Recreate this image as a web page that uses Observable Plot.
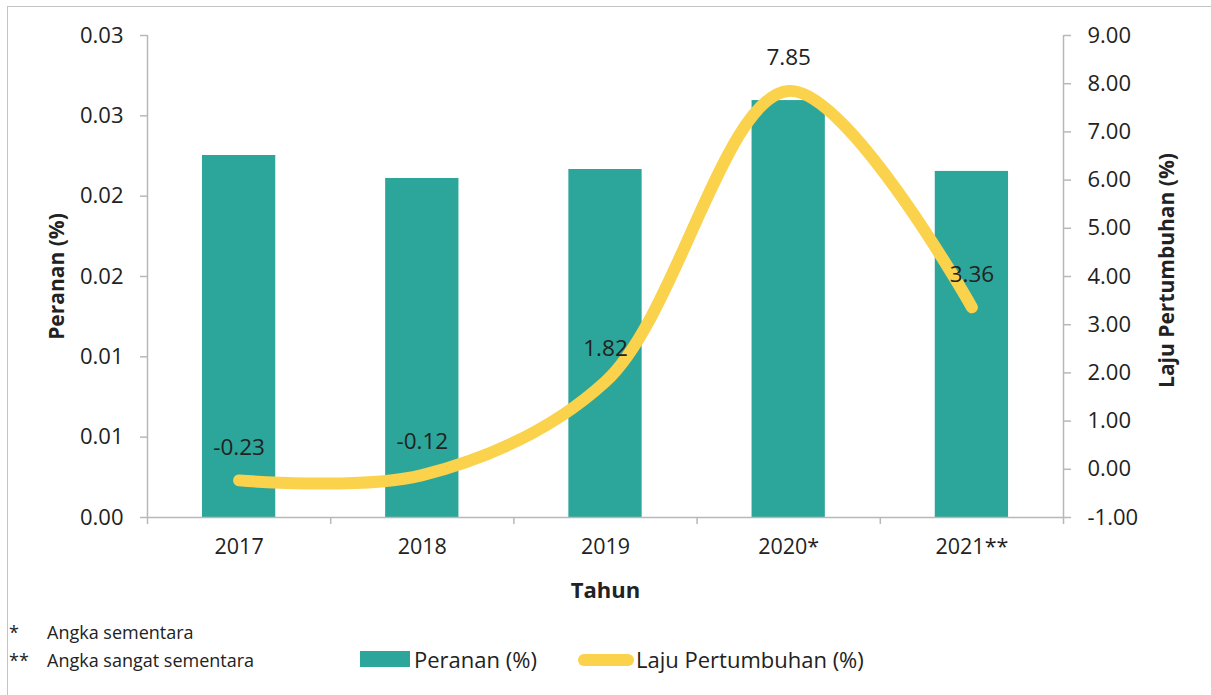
<!DOCTYPE html>
<html>
<head>
<meta charset="utf-8">
<script src="https://cdn.jsdelivr.net/npm/d3@7"></script>
<script src="https://cdn.jsdelivr.net/npm/@observablehq/plot@0.6"></script>
<style>
  html, body { margin: 0; padding: 0; background: #fff; }
  body { width: 1211px; height: 695px; position: relative; overflow: hidden; font-family: "Open Sans", sans-serif; color: #222; }
  #frame { position: absolute; left: 7px; top: 6px; width: 1220px; height: 720px; border: 1.5px solid #c4c4c4; box-sizing: border-box; }
  #chart { position: absolute; left: 0; top: 0; }
  .note { position: absolute; font-size: 18px; line-height: 22px; white-space: nowrap; }
  .leg { position: absolute; font-size: 22px; line-height: 26px; white-space: nowrap; }
</style>
</head>
<body>
<div id="frame"></div>
<div id="chart"></div>
<div class="note" style="left:9px; top:621px;">*</div>
<div class="note" style="left:47px; top:621px;">Angka sementara</div>
<div class="note" style="left:9px; top:649px;">**</div>
<div class="note" style="left:47px; top:649px;">Angka sangat sementara</div>
<div style="position:absolute; left:360px; top:651px; width:50px; height:16px; background:#2CA59A;"></div>
<div class="leg" style="left:414px; top:646px;">Peranan (%)</div>
<div style="position:absolute; left:578px; top:654px; width:56px; height:12px; border-radius:6px; background:#FAD24C;"></div>
<div class="leg" style="left:636px; top:646px;">Laju Pertumbuhan (%)</div>
<script>
// ---- data ----
const categories = ["2017", "2018", "2019", "2020*", "2021**"];
const peranan = [0.02253, 0.0211, 0.02166, 0.02595, 0.02154];
const laju = [-0.23, -0.12, 1.82, 7.85, 3.36];
const leftTicks = [0, 0.005, 0.01, 0.015, 0.02, 0.025, 0.03];
const leftTickLabels = ["0.00", "0.01", "0.01", "0.02", "0.02", "0.03", "0.03"];
const rightTicks = [-1, 0, 1, 2, 3, 4, 5, 6, 7, 8, 9];

// secondary axis mapped into primary y domain
const toLeft = d3.scaleLinear().domain([-1, 9]).range([0, 0.03]);

const bars = categories.map((c, i) => ({i, c, v: peranan[i]}));
const pts = categories.map((c, i) => ({i, c, v: laju[i]}));

const gray = "#b8b8b8";
const teal = "#2CA59A";
const yellow = "#FAD24C";
const font = "'Open Sans', sans-serif";

const chart = Plot.plot({
  width: 1211,
  height: 615,
  marginTop: 35,
  marginBottom: 98,
  marginLeft: 147,
  marginRight: 148,
  style: {fontFamily: font, fontSize: "22px", color: "#222", background: "transparent"},
  x: {type: "linear", domain: [0, categories.length], axis: null},
  y: {domain: [0, 0.03], axis: null},
  marks: [
    Plot.rectY(bars, {x1: d => d.i + 0.3, x2: d => d.i + 0.7, y1: 0, y2: "v", fill: teal}),
    // axis lines
    Plot.ruleY([0], {stroke: gray, strokeWidth: 1.5}),
    Plot.ruleX([0, categories.length], {stroke: gray, strokeWidth: 1.5}),
    // x boundary ticks
    Plot.axisX({ticks: d3.range(categories.length + 1), tickFormat: () => "", tickSize: 7, stroke: gray, strokeWidth: 1.5}),
    // category labels
    Plot.axisX({ticks: categories.map((c, i) => i + 0.5), tickFormat: d => categories[Math.floor(d)], tickSize: 0, tickPadding: 21, fontSize: 21.5}),
    // left axis
    Plot.axisY({ticks: leftTicks, tickFormat: (d, i) => leftTickLabels[i], tickSize: 7, tickPadding: 17, stroke: gray, strokeWidth: 1.5, fontSize: 22, label: null}),
    // right axis
    Plot.axisY({anchor: "right", ticks: rightTicks.map(v => toLeft(v)), tickFormat: (d, i) => rightTicks[i].toFixed(2), tickSize: 7, tickPadding: 17, stroke: gray, strokeWidth: 1.5, fontSize: 22, label: null}),
    // line
    Plot.line(pts, {x: d => d.i + 0.5, y: d => toLeft(d.v), curve: "catmull-rom", stroke: yellow, strokeWidth: 12, strokeLinecap: "round", strokeLinejoin: "round"}),
    // data labels
    Plot.text(pts, {x: d => d.i + 0.5, y: d => toLeft(d.v), text: d => d.v.toFixed(2), dy: -33, fontSize: 22.5, fill: "#222"}),
    // axis titles
    Plot.text(["Peranan (%)"], {frameAnchor: "left", textAnchor: "middle", lineAnchor: "middle", dx: -90, rotate: -90, fontWeight: "bold", fontSize: 21, fill: "#222"}),
    Plot.text(["Laju Pertumbuhan (%)"], {frameAnchor: "right", textAnchor: "middle", lineAnchor: "middle", dx: 104, dy: -6, rotate: -90, fontWeight: "bold", fontSize: 21, fill: "#222"}),
    Plot.text(["Tahun"], {frameAnchor: "bottom", textAnchor: "middle", lineAnchor: "middle", dy: 73, fontWeight: "bold", fontSize: 22, fill: "#222"})
  ]
});
document.getElementById("chart").appendChild(chart);
</script>
</body>
</html>
